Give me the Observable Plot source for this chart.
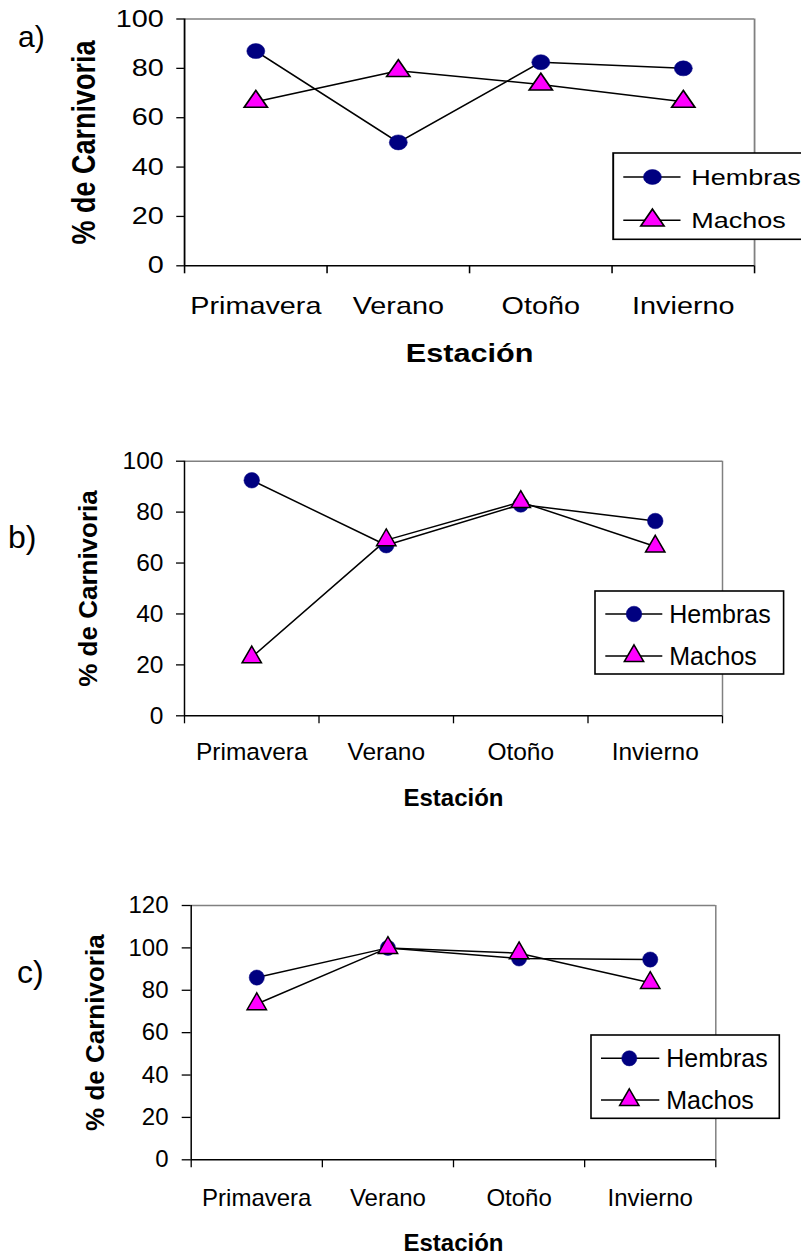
<!DOCTYPE html>
<html>
<head>
<meta charset="utf-8">
<script src="https://cdn.jsdelivr.net/npm/d3@7"></script>
<script src="https://cdn.jsdelivr.net/npm/@observablehq/plot@0.6"></script>
<style>
  html, body { margin: 0; padding: 0; background: white; }
  body { position: relative; width: 801px; height: 1257px; overflow: hidden; font-family: "Liberation Sans", Arial, sans-serif; }
  .panel { position: absolute; left: 0; }
  .legend { position: absolute; overflow: visible; }
</style>
</head>
<body>
<script>
// ---- data ----
const seasons = ["Primavera", "Verano", "Otoño", "Invierno"];
const seriesNames = ["Hembras", "Machos"];
const hembrasA = [87, 50, 82.5, 80];
const machosA  = [66.5, 79, 73.5, 66.5];
const hembrasB = [92.5, 67, 83, 76.5];
const machosB  = [23, 69, 84, 66.5];
const hembrasC = [86, 100, 95, 94.5];
const machosC  = [73.5, 100, 97.5, 83.5];
const yTicksAB = [0, 20, 40, 60, 80, 100];
const yTicksC  = [0, 20, 40, 60, 80, 100, 120];
const panelLetters = ["a)", "b)", "c)"];
const yTitle = "% de Carnivoria";
const xTitle = "Estación";

const FONT = '"Liberation Sans", Arial, sans-serif';
const NAVY = "#000080", MAGENTA = "#ff00ff";

function makePlot(o) {
  const hem = seasons.map((s, i) => ({season: s, pos: i + 0.5, v: o.hem[i]}));
  const mac = seasons.map((s, i) => ({season: s, pos: i + 0.5, v: o.mac[i]}));
  const yMax = o.yTicks[o.yTicks.length - 1];
  return Plot.plot({
    width: o.width, height: o.height,
    marginLeft: o.mL, marginRight: o.mR, marginTop: o.mT, marginBottom: o.mB,
    x: {domain: [0, seasons.length], axis: null},
    y: {domain: [0, yMax], axis: null},
    style: {fontFamily: FONT, color: "black", background: "white", overflow: "visible"},
    marks: [
      Plot.ruleY([yMax], {stroke: "#808080", strokeWidth: 1.5}),
      Plot.ruleX([seasons.length], {stroke: "#808080", strokeWidth: 1.5}),
      Plot.axisY({ticks: o.yTicks, tickSize: o.yTickSize, tickPadding: o.yTickPad, fontSize: o.fs,
                  tickFormat: d => String(d), strokeWidth: 1.3, label: null}),
      Plot.axisX({ticks: d3.range(0, seasons.length + 1), tickSize: 8, tickFormat: () => "",
                  strokeWidth: 1.3, label: null}),
      Plot.axisX({ticks: seasons.map((s, i) => i + 0.5), tickSize: 0, tickPadding: o.xPad, fontSize: o.fs,
                  tickFormat: d => seasons[Math.floor(d)], label: null}),
      Plot.ruleX([0], {stroke: "black", strokeWidth: 1.5}),
      Plot.ruleY([0], {stroke: "black", strokeWidth: 1.5}),
      Plot.line(hem, {x: "pos", y: "v", stroke: "black", strokeWidth: 1.5}),
      Plot.line(mac, {x: "pos", y: "v", stroke: "black", strokeWidth: 1.5}),
      Plot.dot(hem, {x: "pos", y: "v", r: o.rc, fill: NAVY, stroke: NAVY, strokeWidth: 0.5}),
      Plot.dot(mac, {x: "pos", y: "v", r: o.rt, symbol: "triangle", fill: MAGENTA, stroke: "black", strokeWidth: 1.5}),
      Plot.text([yTitle], {text: d => d, frameAnchor: "left", dx: o.titleDx, rotate: -90,
                           textAnchor: "middle", lineAnchor: "middle",
                           fontSize: o.titleFs, fontWeight: "bold"}),
      Plot.text([xTitle], {text: d => d, frameAnchor: "bottom", dy: o.xTitleDy,
                           textAnchor: "middle", lineAnchor: "middle",
                           fontSize: o.xTitleFs, fontWeight: "bold"})
    ]
  });
}

const NS = "http://www.w3.org/2000/svg";
function el(tag, attrs, parent) {
  const e = document.createElementNS(NS, tag);
  for (const k in attrs) e.setAttribute(k, attrs[k]);
  if (parent) parent.appendChild(e);
  return e;
}

function makeLegend(parent, L) {
  const svg = el("svg", {width: L.w + 4, height: L.h + 4});
  svg.setAttribute("class", "legend");
  svg.style.left = (L.left - 2) + "px";
  svg.style.top = (L.top - 2) + "px";
  const g = el("g", {transform: "translate(2,2)"}, svg);
  el("rect", {x: 0, y: 0, width: L.w, height: L.h, fill: "white", stroke: "black", "stroke-width": 1.6}, g);
  seriesNames.forEach((name, i) => {
    const y = L.rows[i];
    el("line", {x1: L.x1, x2: L.x2, y1: y, y2: y, stroke: "black", "stroke-width": 1.5}, g);
    if (i === 0) {
      el("circle", {cx: L.mx, cy: y, r: L.rc, fill: NAVY, stroke: NAVY, "stroke-width": 0.5}, g);
    } else {
      const p = d3.symbol(d3.symbolTriangle, Math.PI * L.rt * L.rt)();
      el("path", {d: p, transform: `translate(${L.mx},${y})`, fill: MAGENTA, stroke: "black", "stroke-width": 1.5}, g);
    }
    const t = el("text", {x: L.tx, y: y, "dominant-baseline": "central", "font-size": L.fs,
                          "font-family": FONT, fill: "black"}, g);
    t.textContent = name;
  });
  parent.appendChild(svg);
}

// ---- panel a (drawn then stretched horizontally, as in the reference) ----
const S = 1.2;
const divA = document.createElement("div");
divA.className = "panel";
divA.style.top = "0px";
divA.style.width = "700px";
divA.style.height = "380px";
divA.style.transform = `scale(${S},1)`;
divA.style.transformOrigin = "0 0";
document.body.appendChild(divA);
divA.appendChild(makePlot({
  hem: hembrasA, mac: machosA, yTicks: yTicksAB,
  width: 700, height: 380, mL: 153.3, mR: 71.7, mT: 18.5, mB: 114.7,
  yTickSize: 6.4, yTickPad: 11, fs: 24, xPad: 31.4,
  rc: 7.5, rt: 7.2,
  titleDx: -83.3, titleFs: 27, xTitleDy: 88.5, xTitleFs: 25.5
}));
makeLegend(divA, {left: 510.6, top: 152.7, w: 220, h: 86.3, rows: [24, 67.3],
                  x1: 8.4, x2: 56.1, mx: 32.7, tx: 65, fs: 22.5, rc: 7.5, rt: 7.2});

// ---- panel b ----
const divB = document.createElement("div");
divB.className = "panel";
divB.style.top = "440px";
divB.style.width = "801px";
document.body.appendChild(divB);
divB.appendChild(makePlot({
  hem: hembrasB, mac: machosB, yTicks: yTicksAB,
  width: 801, height: 380, mL: 184, mR: 79, mT: 20.7, mB: 104.7,
  yTickSize: 8, yTickPad: 13, fs: 24.5, xPad: 26.7,
  rc: 7.8, rt: 7.2,
  titleDx: -96, titleFs: 26, xTitleDy: 83, xTitleFs: 24
}));
makeLegend(document.body, {left: 594.7, top: 591, w: 188.6, h: 83, rows: [23, 65],
                  x1: 10.3, x2: 67.3, mx: 39, tx: 74.3, fs: 25, rc: 7.8, rt: 7.2});

// ---- panel c ----
const divC = document.createElement("div");
divC.className = "panel";
divC.style.top = "880px";
divC.style.width = "801px";
document.body.appendChild(divC);
divC.appendChild(makePlot({
  hem: hembrasC, mac: machosC, yTicks: yTicksC,
  width: 801, height: 377, mL: 190.7, mR: 85.7, mT: 25, mB: 97.7,
  yTickSize: 9, yTickPad: 13.7, fs: 24, xPad: 28.7,
  rc: 7.6, rt: 7.2,
  titleDx: -95.7, titleFs: 26, xTitleDy: 84, xTitleFs: 24
}));
makeLegend(document.body, {left: 590.7, top: 1035, w: 188.3, h: 83.3, rows: [23.3, 65],
                  x1: 10, x2: 68.3, mx: 38.3, tx: 75.3, fs: 25, rc: 7.6, rt: 7.2});

// ---- panel letters ----
const over = el("svg", {width: 801, height: 1257});
over.style.position = "absolute"; over.style.left = "0"; over.style.top = "0";
over.style.pointerEvents = "none";
const letterPos = [[18, 46.7, 30], [8, 548, 32], [17, 983, 32]];
panelLetters.forEach((t, i) => {
  const [x, y, f] = letterPos[i];
  const e = el("text", {x, y, "font-size": f, "font-family": FONT, fill: "black"}, over);
  e.textContent = t;
});
document.body.appendChild(over);
</script>
</body>
</html>
